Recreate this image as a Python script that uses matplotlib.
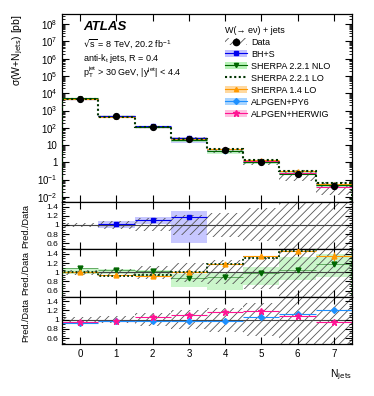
import numpy as np
import matplotlib
matplotlib.use("Agg")
from matplotlib import pyplot as plt
from matplotlib.patches import Patch
from matplotlib.lines import Line2D
from matplotlib.ticker import FixedLocator, MultipleLocator, FuncFormatter, NullFormatter

plt.rcParams['font.family'] = ['Liberation Sans', 'DejaVu Sans']
plt.rcParams['font.size'] = 7
plt.rcParams['hatch.linewidth'] = 0.6
plt.rcParams['mathtext.default'] = 'regular'

# data
njets = np.arange(8)
data = [4800, 470, 112, 23, 4.9, 1.05, 0.21, 0.04]
data_rel_err = [0.05, 0.08, 0.14, 0.21, 0.26, 0.36, 0.6, 0.7]

bhs_n = [1, 2, 3]
bhs_ratio = [1.01, 1.10, 1.17]
bhs_lo = [0.94, 1.02, 0.60]
bhs_hi = [1.08, 1.17, 1.30]

nlo_ratio = [1.09, 1.05, 1.02, 0.87, 0.89, 0.98, 1.05, 1.18]
nlo_lo = [0.97, 0.97, 0.93, 0.67, 0.61, 0.72, 0.83, 0.89]
nlo_hi = [1.10, 1.08, 1.05, 0.96, 1.00, 1.11, 1.33, 1.40]

lo221_ratio = [1.00, 0.93, 0.94, 1.01, 1.18, 1.31, 1.46, 1.52]

lo14_ratio = [1.00, 0.95, 0.93, 1.00, 1.18, 1.36, 1.47, 1.35]
lo14_err = [0.01, 0.01, 0.01, 0.01, 0.02, 0.02, 0.03, 0.10]

py6_ratio = [0.93, 0.97, 0.98, 0.97, 0.98, 1.05, 1.13, 1.22]
hw_ratio = [0.95, 0.97, 1.05, 1.10, 1.17, 1.19, 1.08, 0.95]

main_decades = np.arange(-2, 9)

c_bhs = '#0000ee'
c_nlo = '#006600'
c_lo = '#003300'
c_14 = '#ff9900'
c_py6 = '#1e90ff'
c_hw = '#ff1493'

data = np.array(data)
edges = np.arange(-0.5, 8.0, 1.0)

fig = plt.figure(figsize=(3.74, 3.96), dpi=100)
ax = fig.add_axes([0.166, 0.490, 0.775, 0.475])
r1 = fig.add_axes([0.166, 0.3705, 0.775, 0.1195])
r2 = fig.add_axes([0.166, 0.2508, 0.775, 0.1197])
r3 = fig.add_axes([0.166, 0.1313, 0.775, 0.1195])


def hatch_band(a, center, rel):
    center = np.asarray(center, dtype=float)
    rel = np.asarray(rel)
    a.bar(njets, 2 * rel * center, bottom=center * (1 - rel), width=1.0,
          fill=False, hatch='////', edgecolor='#555555', linewidth=0, zorder=1)


def band(a, xs, lo, hi, color, alpha=0.5):
    xs = np.asarray(xs)
    a.bar(xs, np.asarray(hi) - np.asarray(lo), bottom=lo, width=1.0,
          color=color, alpha=alpha, linewidth=0, zorder=0.5)


# ---- main panel
hatch_band(ax, data, data_rel_err)
band(ax, bhs_n, data[bhs_n] * np.array(bhs_lo), data[bhs_n] * np.array(bhs_hi), '#9999ff')
band(ax, njets, data * np.array(nlo_lo), data * np.array(nlo_hi), '#99ee99')
for r, c in [(py6_ratio, c_py6), (hw_ratio, c_hw), (lo14_ratio, c_14), (nlo_ratio, c_nlo)]:
    ax.hlines(data * np.array(r), njets - 0.5, njets + 0.5, color=c, lw=0.8, zorder=2)
ax.hlines(data[bhs_n] * np.array(bhs_ratio), np.array(bhs_n) - 0.5, np.array(bhs_n) + 0.5,
          color=c_bhs, lw=0.8, zorder=2)
ax.stairs(data * np.array(lo221_ratio), edges, color=c_lo, lw=1.5, ls=(0, (1, 1.2)), zorder=3)
ax.plot(njets, data * np.array(py6_ratio), 'D', color=c_py6, ms=2.5, zorder=3)
ax.plot(njets, data * np.array(hw_ratio), '*', color=c_hw, ms=3.5, zorder=3)
ax.plot(njets, data * np.array(lo14_ratio), '^', color=c_14, ms=2.5, zorder=3)
ax.plot(njets, data * np.array(nlo_ratio), 'v', color=c_nlo, ms=2.5, zorder=3)
ax.plot(bhs_n, data[bhs_n] * np.array(bhs_ratio), 's', color=c_bhs, ms=2.5, zorder=3)
ax.plot(njets, data, 'o', color='black', ms=4.2, zorder=4)

ax.set_yscale('log')
ax.set_ylim(5e-3, 4e8)
ax.yaxis.set_major_locator(FixedLocator(10.0 ** main_decades))
minor = [m * 10.0 ** e for e in range(-3, 9) for m in range(2, 10)]
minor = [v for v in minor if 5e-3 <= v <= 4e8]
ax.yaxis.set_minor_locator(FixedLocator(minor))
ax.yaxis.set_minor_formatter(NullFormatter())


def logfmt(v, pos):
    e = int(round(np.log10(v)))
    if e == 0:
        return '1'
    if e == 1:
        return '10'
    return '$10^{%d}$' % e


ax.yaxis.set_major_formatter(FuncFormatter(logfmt))
ax.set_ylabel(r'$\sigma$(W+N$_{\rm jets}$) [pb]', loc='top', fontsize=7.5)
ax.yaxis.set_label_coords(-0.127, 1.0)

ax.text(0.072, 0.93, 'ATLAS', transform=ax.transAxes, fontsize=9.5, weight='bold', style='italic',
        va='center')
ax.text(0.072, 0.84, r'$\sqrt{s}$ = 8 TeV, 20.2 fb$^{-1}$', transform=ax.transAxes, fontsize=6.5,
        va='center')
ax.text(0.072, 0.765, r'anti-k$_{t}$ jets, R = 0.4', transform=ax.transAxes, fontsize=6.5,
        va='center')
ax.text(0.072, 0.69, r'p$_{T}^{jet}$ > 30 GeV, |y$^{jet}$| < 4.4', transform=ax.transAxes,
        fontsize=6.5, va='center')

h_data = (Patch(facecolor='none', hatch='////', edgecolor='#555555', lw=0),
          Line2D([], [], marker='o', color='black', ls='none', ms=4.5))
h_bhs = (Patch(facecolor='#9999ff', alpha=0.6, lw=0),
         Line2D([], [], marker='s', color=c_bhs, ms=3, lw=0.8))
h_nlo = (Patch(facecolor='#99ee99', alpha=0.7, lw=0),
         Line2D([], [], marker='v', color=c_nlo, ms=3, lw=0.8))
h_lo = Line2D([], [], color=c_lo, lw=1.5, ls=(0, (1, 1.2)))
h_14 = (Patch(facecolor='#ffd9a0', lw=0),
        Line2D([], [], marker='^', color=c_14, ms=3, lw=0.8))
h_py6 = (Patch(facecolor='#a8d4ff', lw=0),
         Line2D([], [], marker='D', color=c_py6, ms=3, lw=0.8))
h_hw = (Patch(facecolor='#ffc0e0', lw=0),
        Line2D([], [], marker='*', color=c_hw, ms=4.5, lw=0.8))
leg = ax.legend([h_data, h_bhs, h_nlo, h_lo, h_14, h_py6, h_hw],
                ['Data', 'BH+S', 'SHERPA 2.2.1 NLO', 'SHERPA 2.2.1 LO', 'SHERPA 1.4 LO',
                 'ALPGEN+PY6', 'ALPGEN+HERWIG'],
                title='W(→ eν) + jets', alignment='left',
                loc='upper left', bbox_to_anchor=(0.54, 0.97), frameon=False,
                fontsize=6.5, title_fontsize=6.5, handlelength=2.4, handleheight=0.8,
                labelspacing=0.33, handletextpad=0.5, borderpad=0.2)

# ---- ratio panels
for a in (r1, r2, r3):
    hatch_band(a, np.ones(8), data_rel_err)
    a.axhline(1.0, color='#444444', lw=0.8, zorder=1.5)

band(r1, bhs_n, bhs_lo, bhs_hi, '#9999ff', alpha=0.55)
r1.hlines(bhs_ratio, np.array(bhs_n) - 0.5, np.array(bhs_n) + 0.5, color=c_bhs, lw=0.8, zorder=2)
r1.plot(bhs_n, bhs_ratio, 's', color=c_bhs, ms=3.5, zorder=3)

band(r2, njets, nlo_lo, nlo_hi, '#99ee99', alpha=0.5)
r2.hlines(lo14_ratio, njets - 0.5, njets + 0.5, color=c_14, lw=0.8, zorder=2)
r2.hlines(nlo_ratio, njets - 0.5, njets + 0.5, color=c_nlo, lw=0.6, alpha=0.6, zorder=2)
r2.stairs(lo221_ratio, edges, color=c_lo, lw=1.3, ls=(0, (1, 1.2)), zorder=3)
r2.errorbar(njets, lo14_ratio, yerr=lo14_err, fmt='^', color=c_14, ms=3.5, lw=0.8, zorder=3)
r2.plot(njets, nlo_ratio, 'v', color=c_nlo, ms=3.5, zorder=3)

r3.hlines(hw_ratio, njets - 0.5, njets + 0.5, color=c_hw, lw=0.8, zorder=2)
r3.hlines(py6_ratio, njets - 0.5, njets + 0.5, color=c_py6, lw=0.8, zorder=2)
r3.plot(njets, py6_ratio, 'D', color=c_py6, ms=3, zorder=3)
r3.plot(njets, hw_ratio, '*', color=c_hw, ms=5, zorder=3)

for a in (r1, r2, r3):
    a.set_ylim(0.47, 1.5)
    a.yaxis.set_major_locator(FixedLocator([0.6, 0.8, 1.0, 1.2, 1.4]))
    a.yaxis.set_major_formatter(FuncFormatter(lambda v, p: '1' if abs(v - 1) < 1e-6 else '%g' % v))
    a.yaxis.set_minor_locator(MultipleLocator(0.05))
    a.set_ylabel('Pred./Data', fontsize=6.6)
    a.yaxis.set_label_coords(-0.11, 0.5)

for a in (ax, r1, r2, r3):
    a.set_xlim(-0.5, 7.5)
    a.xaxis.set_major_locator(FixedLocator(njets))
    a.tick_params(which='both', direction='in', top=True, right=True, labelsize=7)
    a.tick_params(which='major', length=5, width=0.8)
    a.tick_params(which='minor', length=2.5, width=0.6)
    for s in a.spines.values():
        s.set_linewidth(0.9)
for a in (r1, r2, r3):
    a.tick_params(axis='y', labelsize=6.1, pad=2.5)
for a in (ax, r1, r2):
    a.tick_params(labelbottom=False)

r3.set_xlabel(r'N$_{\rm jets}$', loc='right', fontsize=7.5, labelpad=6)

fig.savefig('out.png', dpi=100)
